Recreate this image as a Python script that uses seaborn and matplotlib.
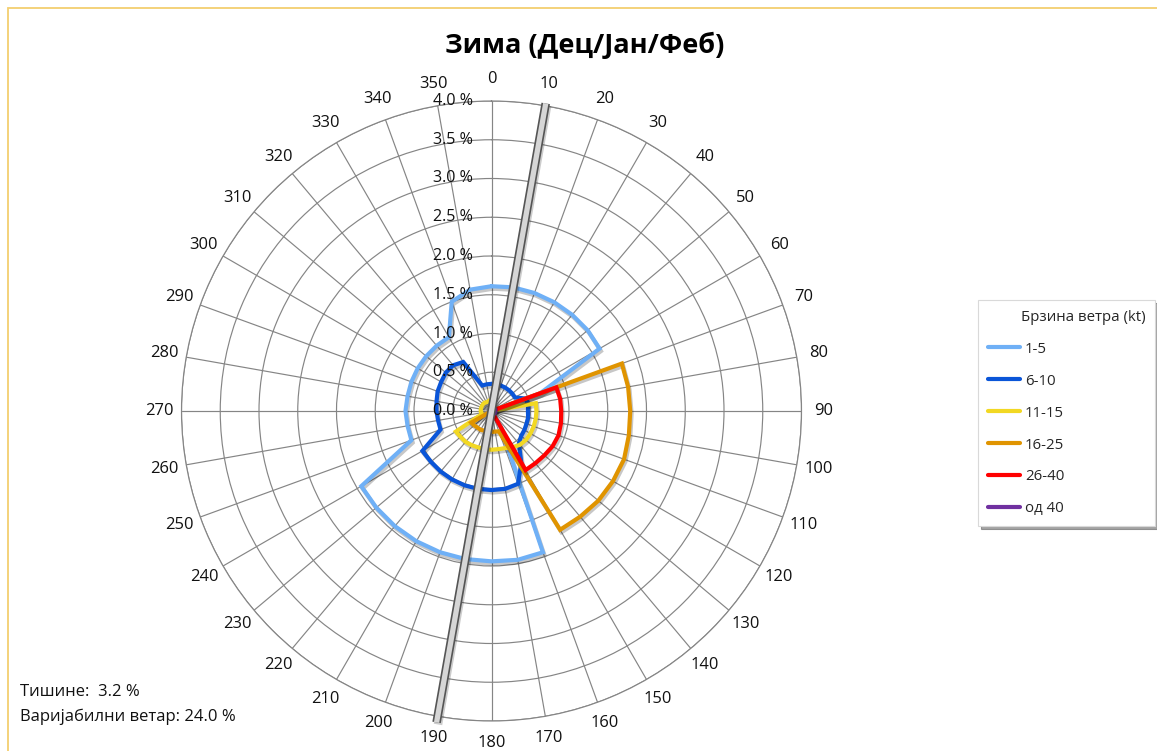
import numpy as np
import pandas as pd
import matplotlib
matplotlib.use("Agg")
import matplotlib.pyplot as plt
import matplotlib.patheffects as pe
from matplotlib.lines import Line2D
from matplotlib.patches import Rectangle
from matplotlib.transforms import offset_copy
import seaborn as sns

# wind directions (deg) and radial ticks (%)
directions = list(range(0, 360, 10))
dir_labels = [str(d) for d in directions]
r_ticks = [0.0, 0.5, 1.0, 1.5, 2.0, 2.5, 3.0, 3.5, 4.0]
r_labels = ["0.0 %", "0.5 %", "1.0 %", "1.5 %", "2.0 %", "2.5 %", "3.0 %", "3.5 %", "4.0 %"]

# frequency (%) per direction 0..350, one list per speed class
speed_1_5 = [1.61, 1.62, 1.62, 1.62, 1.62, 1.62, 1.61, 0.67, 0.0, 0.0, 0.0, 0.0,
             0.0, 0.0, 0.0, 0.24, 1.94, 1.95, 1.94, 1.94, 1.94, 1.94, 1.94, 1.94,
             1.94, 1.10, 1.10, 1.11, 1.10, 1.10, 1.10, 1.10, 1.10, 1.10, 1.50, 1.59]
speed_6_10 = [0.35, 0.35, 0.35, 0.35, 0.35, 0.35, 0.35, 0.47, 0.48, 0.47, 0.48, 0.48,
              0.49, 0.50, 0.55, 0.77, 1.00, 1.02, 1.02, 1.02, 1.02, 1.02, 1.02, 1.02,
              1.03, 0.70, 0.70, 0.71, 0.72, 0.74, 0.75, 0.77, 0.77, 0.73, 0.35, 0.35]
speed_11_15 = [0.14, 0.13, 0.10, 0.0, 0.0, 0.0, 0.0, 0.0, 0.58, 0.58, 0.58, 0.58,
               0.58, 0.58, 0.57, 0.54, 0.51, 0.50, 0.50, 0.50, 0.50, 0.51, 0.52, 0.52,
               0.53, 0.15, 0.13, 0.14, 0.14, 0.14, 0.14, 0.14, 0.14, 0.13, 0.13, 0.14]
speed_16_25 = [0.0, 0.0, 0.0, 0.0, 0.0, 0.0, 0.0, 1.79, 1.79, 1.79, 1.80, 1.82,
               1.81, 1.80, 1.78, 1.77, 0.28, 0.27, 0.27, 0.27, 0.27, 0.28, 0.28, 0.29,
               0.30, 0.0, 0.0, 0.0, 0.0, 0.0, 0.0, 0.0, 0.0, 0.0, 0.0, 0.0]
speed_26_40 = [0.0, 0.0, 0.0, 0.0, 0.0, 0.0, 0.0, 0.89, 0.90, 0.90, 0.91, 0.92,
               0.91, 0.89, 0.88, 0.88, 0.0, 0.0, 0.0, 0.0, 0.0, 0.0, 0.0, 0.0,
               0.0, 0.0, 0.0, 0.0, 0.0, 0.0, 0.0, 0.0, 0.0, 0.0, 0.0, 0.0]
speed_40 = [0.0, 0.0, 0.0, 0.0, 0.0, 0.0, 0.0, 0.0, 0.05, 0.05, 0.05, 0.05,
            0.05, 0.05, 0.05, 0.0, 0.0, 0.0, 0.0, 0.0, 0.0, 0.0, 0.0, 0.0,
            0.0, 0.0, 0.0, 0.0, 0.0, 0.0, 0.0, 0.0, 0.0, 0.0, 0.0, 0.0]

series_names = ["1-5", "6-10", "11-15", "16-25", "26-40", "од 40"]
series_values = [speed_1_5, speed_6_10, speed_11_15, speed_16_25, speed_26_40, speed_40]
series_colors = ["#6fb0f6", "#0a55d8", "#f2d823", "#e09400", "#ff0000", "#7030a0"]

# variable wind marker: direction and lengths of both ends (%)
variable_dir = 10
variable_len = [4.03, 4.08]
calm_pct = 3.2
variable_pct = 24.0

rows = []
for name, vals in zip(series_names, series_values):
    for d, v in zip(directions + [360], vals + [vals[0]]):
        rows.append({"theta": np.deg2rad(d), "pct": v, "series": name})
df = pd.DataFrame(rows)

sns.set_style("white")
plt.rcParams["font.family"] = ["Open Sans", "DejaVu Sans"]

W, H = 1157, 751
fig = plt.figure(figsize=(W / 100, H / 100), dpi=100)
cx, cy, R = 491.5, 411, 310
ax = fig.add_axes([(cx - R) / W, (H - cy - R) / H, 2 * R / W, 2 * R / H], projection="polar")
ax.set_theta_zero_location("N")
ax.set_theta_direction(-1)

grid_c = "#858585"
ax.set_xticks(np.deg2rad(directions))
ax.set_xticklabels([])
ax.set_yticks(r_ticks)
ax.set_yticklabels([])
ax.grid(True, color=grid_c, lw=0.85)
ax.spines["polar"].set_color(grid_c)
ax.spines["polar"].set_linewidth(0.85)

shadow = [pe.SimpleLineShadow(offset=(1, -1.8), shadow_color="black", alpha=0.22),
          pe.Normal()]
sns.lineplot(data=df, x="theta", y="pct", hue="series", hue_order=series_names,
             palette=dict(zip(series_names, series_colors)), sort=False,
             estimator=None, lw=3, legend=False, ax=ax, path_effects=shadow,
             solid_joinstyle="miter")
ax.set_xlabel("")
ax.set_ylabel("")
ax.set_ylim(0, 4.0)

# variable wind bar
vt = np.deg2rad([variable_dir, variable_dir + 180])
ax.plot(vt, variable_len, color="#555555", lw=6.2, solid_capstyle="butt",
        clip_on=False, zorder=5,
        path_effects=[pe.SimpleLineShadow(offset=(1, -1.5), alpha=0.2), pe.Normal()])
ax.plot(vt, variable_len, color="#d6d6d6", lw=3.8, solid_capstyle="butt",
        clip_on=False, zorder=6)

# direction labels
for d, lab in zip(directions, dir_labels):
    ax.text(np.deg2rad(d), 4.285, lab, ha="center", va="center", fontsize=11.9,
            color="#111111", clip_on=False)

# radial labels along the north spoke
tr = offset_copy(ax.transData, fig=fig, x=-18.5, y=0, units="dots")
for r, lab in zip(r_ticks, r_labels):
    ax.text(0, r, lab, transform=tr, ha="right", va="center", fontsize=11.6,
            color="#111111", zorder=4)

fig.text(585 / W, 1 - 45 / H, "Зима (Дец/Јан/Феб)", ha="center", va="center",
         fontsize=19.5, fontweight="bold", color="#000000")

fig.text(20 / W, 1 - 692 / H, f"Тишине:  {calm_pct:.1f} %", ha="left", va="center",
         fontsize=12, color="#111111")
fig.text(20 / W, 1 - 717 / H, f"Варијабилни ветар: {variable_pct:.1f} %", ha="left",
         va="center", fontsize=12, color="#111111")

handles = [Line2D([], [], color=c, lw=3) for c in series_colors]
leg = fig.legend(handles, series_names, title="Брзина ветра (kt)",
                 loc="upper left", bbox_to_anchor=(978 / W, 1 - 300 / H, 177 / W, 0.0),
                 mode="expand", alignment="right", frameon=True, fancybox=False,
                 shadow=True, edgecolor="#d9d9d9", fontsize=10.8, title_fontsize=10.8,
                 handlelength=2.15, handletextpad=0.33, labelspacing=1.13,
                 borderpad=0.65, borderaxespad=0)
leg.get_frame().set_linewidth(0.8)

fig.patches.append(Rectangle((8 / W, -0.1), 1.2, 1 - 8 / H + 0.1, transform=fig.transFigure,
                             fill=False, edgecolor="#f3cf70", lw=1.3, figure=fig))

fig.savefig("out.png", dpi=100)
